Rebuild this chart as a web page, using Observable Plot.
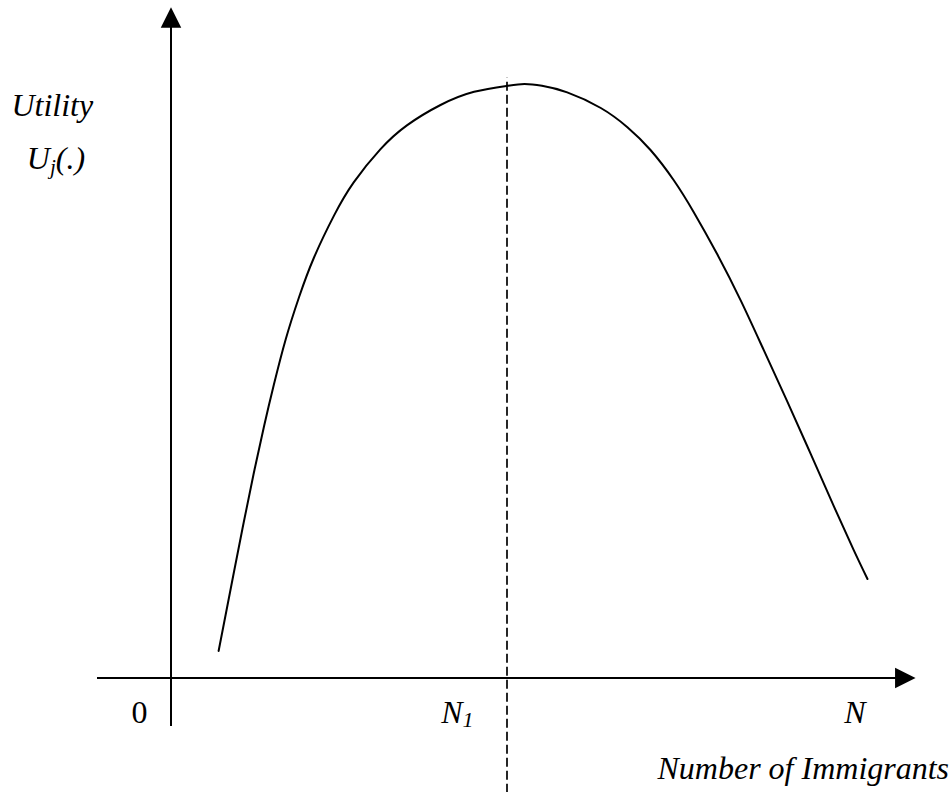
<!DOCTYPE html>
<html>
<head>
<meta charset="utf-8">
<script src="https://cdn.jsdelivr.net/npm/d3@7"></script>
<script src="https://cdn.jsdelivr.net/npm/@observablehq/plot@0.6"></script>
<style>
  html, body { margin: 0; padding: 0; background: #fff; overflow: hidden; }
  #chart svg { display: block; }
</style>
</head>
<body>
<div id="chart"></div>
<script>
// ---- Data ----
// Utility curve U_j(.) against number of immigrants (arbitrary units, 0..100)
const immigrants = [6.8, 9.0, 10.4, 11.8, 13.3, 14.7, 16.4, 18.3, 20.4, 23.3, 26.1, 29.9, 33.7, 38.5, 43.3, 48.0, 50.5, 53.0, 56.6, 61.4, 65.2, 68.5, 71.8, 74.7, 78.0, 81.4, 84.7, 88.0, 91.4, 94.7, 97.5, 99.5];
const utility    = [4.5, 17.7, 26.0, 34.0, 42.0, 48.9, 56.5, 63.5, 70.0, 77.1, 82.6, 88.1, 92.1, 95.5, 97.7, 98.7, 99.0, 98.7, 97.6, 95.0, 91.8, 88.0, 83.0, 77.6, 70.7, 62.9, 54.6, 46.2, 37.3, 28.6, 21.4, 16.5];
const N1 = 48;     // optimum number of immigrants (dashed line)
const N = 100;     // total
const xTickValues = [0, N1, N];
const xTickLabels = ["0", "N1", "N"];
const yTitleLines = ["Utility", "Uj(.)"];
const xTitle = "Number of Immigrants";

// ---- Layout ----
const W = 950, H = 792;
const serif = "'Liberation Serif', 'Times New Roman', serif";
const FS = 32;
const curveData = immigrants.map((x, i) => ({x, y: utility[i]}));

// isoceles arrowhead symbol (tip up)
const arrowHead = {
  draw(ctx, size) {
    const s = Math.sqrt(size);
    ctx.moveTo(0, -s / 2);
    ctx.lineTo(s / 2, s / 2);
    ctx.lineTo(-s / 2, s / 2);
    ctx.closePath();
  }
};
const headR = 20.5 / Math.sqrt(Math.PI);

const tickDx = [-23.5, -33.5, -5.5];

const marks = [
  // axes
  Plot.ruleY([0], {x1: -10.5, x2: 104.5, stroke: "#000", strokeWidth: 2}),
  Plot.ruleX([0], {y1: -8.1, y2: 109.5, stroke: "#000", strokeWidth: 2}),
  Plot.dot([{x: 104.9, y: 0}], {x: "x", y: "y", symbol: arrowHead, r: headR, fill: "#000", stroke: "none", rotate: 90}),
  Plot.dot([{x: 0, y: 110.1}], {x: "x", y: "y", symbol: arrowHead, r: headR, fill: "#000", stroke: "none"}),
  // dashed line at N1
  Plot.ruleX([N1], {y1: -19.2, y2: 100, stroke: "#000", strokeWidth: 1.7, strokeDasharray: "9,4"}),
  // utility curve
  Plot.line(curveData, {x: "x", y: "y", curve: "natural", stroke: "#000", strokeWidth: 2}),
  // y title
  Plot.text([yTitleLines[0]], {x: -22.8, y: 93.75, text: d => d, textAnchor: "start", lineAnchor: "bottom", fontSize: FS, fontStyle: "italic", fontFamily: serif, fill: "#000"}),
  Plot.text([yTitleLines[1]], {x: -20.6, y: 84.9, text: d => d, textAnchor: "start", lineAnchor: "bottom", fontSize: FS, fontStyle: "italic", fontFamily: serif, fill: "#000"}),
  // x title
  Plot.text([xTitle], {x: 69.5, y: -16.75, text: d => d, textAnchor: "start", lineAnchor: "bottom", fontSize: FS, fontStyle: "italic", fontFamily: serif, fill: "#000"}),
  // tick labels
  ...xTickValues.map((v, i) => Plot.text([xTickLabels[i]], {
    x: () => v, y: () => -7.5, text: d => d, textAnchor: "end", lineAnchor: "bottom", dx: tickDx[i],
    fontSize: FS, fontStyle: i === 0 ? "normal" : "italic", fontFamily: serif, fill: "#000"
  }))
];

const chart = Plot.plot({
  width: W,
  height: H,
  margin: 0,
  style: {background: "#fff", overflow: "visible"},
  x: {domain: [0, 100], range: [170.5, 870.5], axis: null},
  y: {domain: [0, 100], range: [677.5, 77.5], axis: null},
  marks
});

// subscripts as real text via tspans
const ns = "http://www.w3.org/2000/svg";
chart.querySelectorAll("text").forEach(t => {
  const s = t.textContent;
  if (s === "Uj(.)") {
    t.textContent = "";
    const a = document.createElementNS(ns, "tspan"); a.textContent = "U";
    const b = document.createElementNS(ns, "tspan"); b.textContent = "j"; b.setAttribute("font-size", "21"); b.setAttribute("dy", "5");
    const c = document.createElementNS(ns, "tspan"); c.textContent = "(.)"; c.setAttribute("dy", "-5");
    t.append(a, b, c);
  } else if (s === "N1") {
    t.textContent = "";
    const a = document.createElementNS(ns, "tspan"); a.textContent = "N";
    const b = document.createElementNS(ns, "tspan"); b.textContent = "1"; b.setAttribute("font-size", "22"); b.setAttribute("dy", "4");
    t.append(a, b);
  }
});

document.getElementById("chart").appendChild(chart);
</script>
</body>
</html>
